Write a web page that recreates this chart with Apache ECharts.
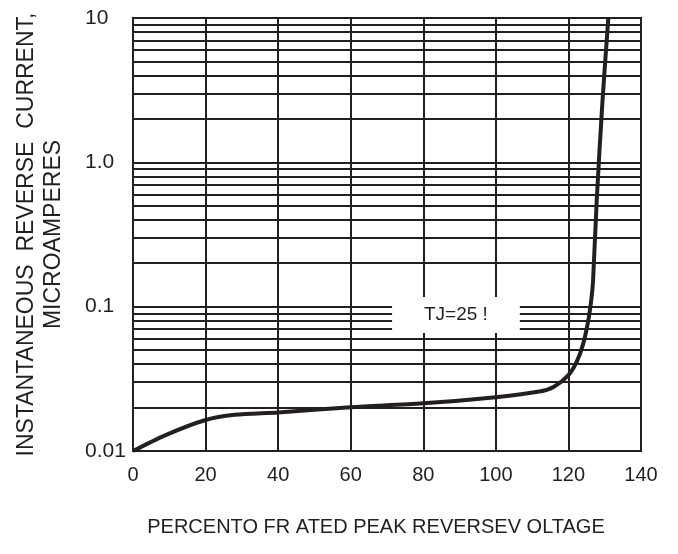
<!DOCTYPE html>
<html>
<head>
<meta charset="utf-8">
<script src="https://cdn.jsdelivr.net/npm/echarts@6/dist/echarts.min.js"></script>
<style>
html, body { margin: 0; padding: 0; background: #fff; }
#chart { width: 678px; height: 554px; }
</style>
</head>
<body>
<div id="chart"></div>
<script>
// 曲线数据：额定反向电压百分比 vs 反向电流
var voltagePct = [0, 9, 20, 28, 40, 60, 80, 100, 112, 116, 120, 122.3, 124.1, 125.5, 126.4, 126.8, 127.8, 129.4, 131];
var currentUA = [0.01, 0.0129, 0.0164, 0.0178, 0.0185, 0.0201, 0.0214, 0.0236, 0.0258, 0.0279, 0.0336, 0.0416, 0.0557, 0.0809, 0.117, 0.153, 0.548, 2.70, 10];

// 刻度
var xTicks = [0, 20, 40, 60, 80, 100, 120, 140];
var yTickValues = [0.01, 0.1, 1, 10];
var yTickLabels = ['0.01', '0.1', '1.0', '10'];
// 对数网格的次分割线
var minorGrid = [0.02, 0.03, 0.04, 0.05, 0.06, 0.07, 0.08, 0.09,
                 0.2, 0.3, 0.4, 0.5, 0.6, 0.7, 0.8, 0.9,
                 2, 3, 4, 5, 6, 7, 8, 9];
// 标注框
var noteText = 'TJ=25 !';
var noteBox = [[71.4, 0.1167], [106.6, 0.0657]];

var ink = '#231f20';
var font = 'Liberation Sans, Arial, sans-serif';

var chart = echarts.init(document.getElementById('chart'));

var curve = [];
for (var i = 0; i < voltagePct.length; i++) {
	curve.push([voltagePct[i], currentUA[i]]);
}
var gridLines = [];
for (var j = 0; j < minorGrid.length; j++) {
	gridLines.push({ yAxis: minorGrid[j] });
}

var option = {
	animation: false,
	grid: {
		left: 133, right: 37, top: 18, bottom: 103,
		containLabel: false,
		outerBoundsMode: 'none',
		show: true, borderColor: ink, borderWidth: 2
	},
	xAxis: {
		type: 'value',
		min: xTicks[0],
		max: xTicks[xTicks.length - 1],
		interval: 20,
		name: 'PERCENTO FR ATED PEAK REVERSEV OLTAGE',
		nameLocation: 'middle',
		nameGap: 66,
		nameTextStyle: { color: ink, fontSize: 20, fontFamily: font, padding: [0, 22, 0, 0] },
		axisLine: { show: true, lineStyle: { color: ink, width: 2 } },
		axisTick: { show: false },
		axisLabel: { color: ink, fontSize: 20, fontFamily: font, margin: 14 },
		splitLine: { show: true, lineStyle: { color: ink, width: 2 } }
	},
	yAxis: {
		type: 'log',
		logBase: 10,
		min: yTickValues[0],
		max: yTickValues[yTickValues.length - 1],
		name: 'INSTANTANEOUS  REVERSE  CURRENT,\nMICROAMPERES',
		nameLocation: 'middle',
		nameRotate: 90,
		nameGap: 66,
		nameTextStyle: { color: ink, fontSize: 23, fontFamily: font, lineHeight: 27 },
		axisLine: { show: true, lineStyle: { color: ink, width: 2 } },
		axisTick: { show: false },
		axisLabel: {
			color: ink, fontSize: 21, fontFamily: font, margin: 48, align: 'left',
			formatter: function (v) {
				var k = Math.round(Math.log(v) / Math.LN10) + 2;
				return yTickLabels[k] !== undefined ? yTickLabels[k] : '';
			}
		},
		splitLine: { show: true, lineStyle: { color: ink, width: 2 } }
	},
	series: [
		{
			type: 'line',
			data: [],
			silent: true,
			z: 1,
			markLine: {
				silent: true,
				z: 2,
				symbol: 'none',
				label: { show: false },
				lineStyle: { color: ink, width: 2, type: 'solid' },
				data: gridLines
			}
		},
		{
			type: 'line',
			data: [],
			silent: true,
			z: 3,
			markArea: {
				silent: true,
				z: 8,
				itemStyle: { color: '#ffffff', opacity: 1 },
				label: {
					show: true, position: 'inside', color: ink,
					fontSize: 19, fontFamily: font
				},
				data: [[
					{ name: noteText, coord: noteBox[0] },
					{ coord: noteBox[1] }
				]]
			}
		},
		{
			type: 'line',
			data: curve,
			z: 10,
			smooth: 0.3,
			showSymbol: false,
			lineStyle: { color: ink, width: 4 }
		}
	]
};
chart.setOption(option);
</script>
</body>
</html>
